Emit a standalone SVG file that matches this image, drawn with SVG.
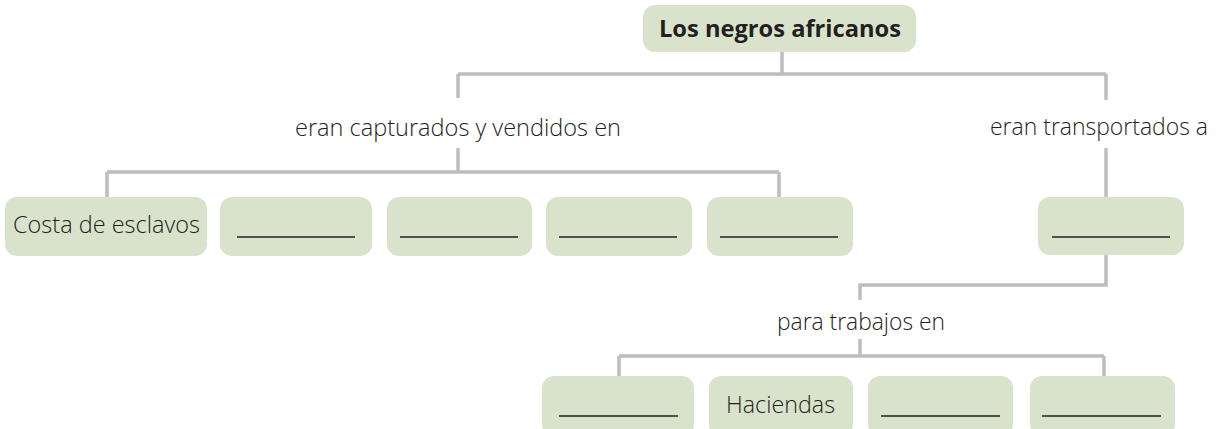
<svg xmlns="http://www.w3.org/2000/svg" width="1219" height="429" viewBox="0 0 1219 429">
<style>
.box{fill:#d9e3cc}
.ln{fill:none;stroke:#bcbdc0;stroke-width:3.5}
.ul{stroke:#231f20;stroke-width:1.6}
text{font-family:"Open Sans","Noto Sans","Liberation Sans",sans-serif;font-size:24px;fill:#231f20;font-weight:300}
.t{font-weight:700;font-size:24px}
.c{text-anchor:middle}
</style>
<rect width="1219" height="429" fill="#ffffff"/>
<g id="connectors">
<path class="ln" d="M782 52V74M458 74H1106M458 74V98M1106 74V100"/>
<path class="ln" d="M458 148V172M107 172H779M107 172V197M779 172V197"/>
<path class="ln" d="M1106 148V197M1106 255V285H860V300M860 339V356M619 356H1104M619 356V376M1104 356V376"/>
</g>
<g id="title"><rect class="box" x="643" y="5" width="273" height="47" rx="12"/><text class="t c" x="780" y="37" textLength="242" lengthAdjust="spacingAndGlyphs">Los negros africanos</text></g>
<g id="lbl-capturados"><text class="c" x="458" y="136" textLength="326" lengthAdjust="spacingAndGlyphs">eran capturados y vendidos en</text></g>
<g id="lbl-transportados"><text class="c" x="1099" y="135" textLength="218" lengthAdjust="spacingAndGlyphs">eran transportados a</text></g>
<g id="lbl-trabajos"><text class="c" x="861" y="330" textLength="168" lengthAdjust="spacingAndGlyphs">para trabajos en</text></g>
<g id="n-costa"><rect class="box" x="5" y="197" width="202" height="59" rx="12"/><text x="13" y="233" textLength="187" lengthAdjust="spacingAndGlyphs">Costa de esclavos</text></g>
<g id="n-a2"><rect class="box" x="220" y="197" width="152" height="59" rx="12"/><line class="ul" x1="237" y1="237" x2="355" y2="237"/></g>
<g id="n-a3"><rect class="box" x="387" y="197" width="145" height="59" rx="12"/><line class="ul" x1="400" y1="237" x2="518" y2="237"/></g>
<g id="n-a4"><rect class="box" x="546" y="197" width="146" height="59" rx="12"/><line class="ul" x1="559" y1="237" x2="677" y2="237"/></g>
<g id="n-a5"><rect class="box" x="707" y="197" width="146" height="59" rx="12"/><line class="ul" x1="720" y1="237" x2="838" y2="237"/></g>
<g id="n-dest"><rect class="box" x="1038" y="197" width="146" height="58" rx="12"/><line class="ul" x1="1052" y1="237" x2="1170" y2="237"/></g>
<g id="n-b1"><rect class="box" x="542" y="376" width="152" height="60" rx="12"/><line class="ul" x1="559" y1="416" x2="678" y2="416"/></g>
<g id="n-haciendas"><rect class="box" x="709" y="376" width="144" height="60" rx="12"/><text x="726" y="413" textLength="109" lengthAdjust="spacingAndGlyphs">Haciendas</text></g>
<g id="n-b3"><rect class="box" x="868" y="376" width="145" height="60" rx="12"/><line class="ul" x1="881" y1="416" x2="1000" y2="416"/></g>
<g id="n-b4"><rect class="box" x="1030" y="376" width="145" height="60" rx="12"/><line class="ul" x1="1042" y1="416" x2="1161" y2="416"/></g>
</svg>
